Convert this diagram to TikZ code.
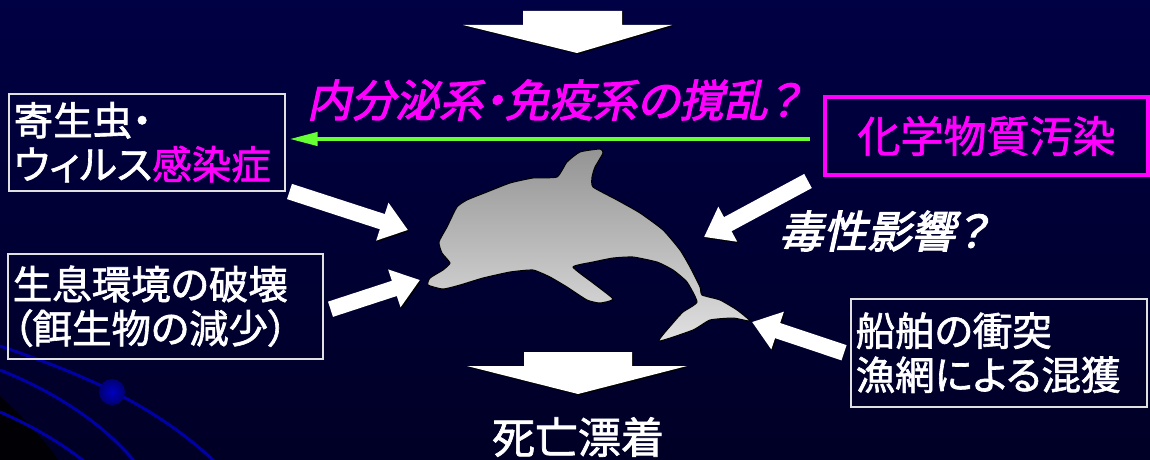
\documentclass[tikz,border=0pt]{standalone}
\usepackage{fontspec}
\newfontfamily\jpfont[RawFeature=+palt,FakeBold=1.6]{Noto Sans CJK JP}
\newfontfamily\jpslant[RawFeature=+palt,FakeSlant=0.22,FakeBold=2.6]{Noto Sans CJK JP}
\usepackage{tikz}
\usetikzlibrary{calc}
\usetikzlibrary{positioning}
\usetikzlibrary{arrows.meta}

\definecolor{seatop}{RGB}{0,0,68}
\definecolor{seabottom}{RGB}{0,0,38}
\definecolor{magentaink}{RGB}{255,0,255}
\definecolor{limegreen}{RGB}{102,255,51}
\definecolor{swirlblue}{RGB}{0,0,165}
\definecolor{finshade}{gray}{0.58}
\definecolor{bellyshade}{gray}{0.88}

\tikzset{
  infobox/.style={draw=white!88!black, line width=1.5pt, text=white, anchor=north west,
    align=left, inner xsep=5pt, font=\jpfont\fontsize{39.5}{44}\selectfont},
  blockarrow/.style={draw=white, line width=16pt, -{Triangle[length=27pt,width=38pt]},
    preaction={draw=black, transform canvas={shift={(1.2,1.2)}}}},
  shadowed/.style={preaction={fill=black, transform canvas={shift={(1.2,1.2)}}}},
}

\begin{document}
\begin{tikzpicture}[x=1pt,y=-1pt]
\useasboundingbox (0,0) rectangle (1150,460);

% --- SEA BACKGROUND ---
\shade[top color=seatop, bottom color=seabottom] (0,0) rectangle (1150,460);
\fill[black, opacity=0.85] (0,396) .. controls (25,420) and (45,440) .. (58,460) -- (0,460) -- cycle;
\draw[swirlblue, line width=3pt] (0,346) .. controls (70,370) and (150,400) .. (215,462);
\draw[swirlblue, line width=3pt] (0,370) .. controls (50,390) and (100,420) .. (135,462);
\draw[swirlblue, line width=3pt] (0,412) .. controls (30,425) and (60,442) .. (85,462);
\shade[inner color=blue!75!black, outer color=swirlblue!70!black] (112,392) circle (13);

% --- DOLPHIN ---
\shadedraw[top color=finshade, bottom color=bellyshade, draw=black, line width=1pt]
  plot [smooth cycle, tension=0.3] coordinates {
    (557,177) (567,162) (580,152) (600,149) (603,153) (595,167) (592,177) (593,187)
    (617,200) (640,213) (663,230) (680,250) (690,267) (700,287) (702,295)
    (720,300) (737,310) (750,321) (733,318) (710,320) (693,330) (659,341)
    (673,323) (683,312) (697,302) (687,282) (673,270) (657,262) (633,257)
    (613,258) (593,262) (573,267) (593,283) (613,299) (600,303) (587,300)
    (567,287) (550,277) (533,270) (510,272) (483,278) (460,285) (443,289)
    (428,285) (430,278) (443,270) (450,263) (442,253) (439,242) (447,227)
    (457,207) (467,200) (487,192) (510,183) (533,178)};
\coordinate (headtop) at (408,230);
\coordinate (snout) at (420,280);
\coordinate (back) at (704,237);
\coordinate (fluke) at (752,322);

% --- TOP AND BOTTOM FLOW ---
\fill[white, shadowed] (523,11) -- (622,11) -- (622,25) -- (672,25) -- (577,53)
  -- (463,25) -- (523,25) -- cycle;
\fill[white, shadowed] (524,352) -- (632,352) -- (632,366) -- (687,366) -- (578,394)
  -- (467,366) -- (524,366) -- cycle;
\node[text=white, font=\jpfont\fontsize{43}{48}\selectfont] (stranding) at (578,437) {死亡漂着};

% --- CAUSES ---
\node[infobox, text width=266pt, minimum height=97pt] (parasite) at (8,93)
  {寄生虫・\\ウィルス\textcolor{magentaink}{感染症}};
\node[infobox, text width=305pt, minimum height=105pt] (habitat) at (7,253)
  {生息環境の破壊\\（餌生物の減少）};
\node[infobox, text width=286pt, minimum height=108pt] (collision) at (850,298)
  {船舶の衝突\\漁網による混獲};
\node[draw=magentaink, line width=4pt, anchor=north west, minimum width=323pt, minimum height=78pt,
  text=magentaink, font=\jpfont\fontsize{43}{48}\selectfont] (chemical) at (823,95) {化学物質汚染};

\node[text=magentaink, font=\jpslant\fontsize{44}{48}\selectfont] (disrupt) at (553,100)
  {内分泌系・免疫系の撹乱？};
\node[text=white, font=\jpslant\fontsize{44}{48}\selectfont] (toxic) at (883,231) {毒性影響？};

% --- CONNECTORS ---
\draw[limegreen, line width=4pt, -{Triangle[length=28pt,width=13pt]}]
  ([xshift=-13pt,yshift=-3pt]chemical.west) -- ([xshift=4pt,yshift=-3pt]chemical.west -| parasite.east);
\draw[blockarrow] ([xshift=4pt]parasite.south east) -- (headtop);
\draw[blockarrow] ([xshift=7pt,yshift=-3pt]habitat.east) -- (snout);
\draw[blockarrow] ([xshift=-15pt,yshift=-4pt]chemical.south west) -- (back);
\draw[blockarrow] ([xshift=-6pt]collision.west) -- (fluke);
\end{tikzpicture}
\end{document}
